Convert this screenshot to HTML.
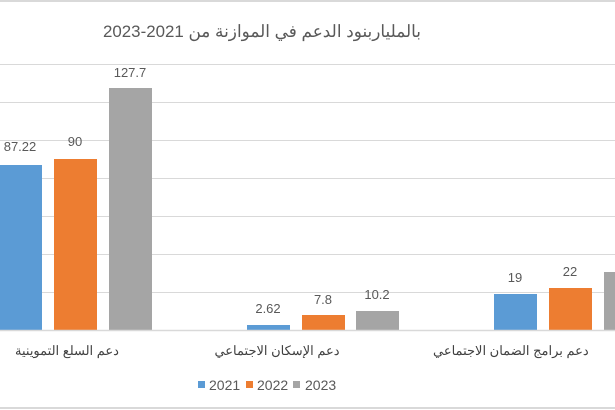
<!DOCTYPE html>
<html><head><meta charset="utf-8"><style>
body{margin:0;background:#fff;}
svg{display:block;font-family:"Liberation Sans","Noto Sans CJK SC",sans-serif;}
</style></head><body>
<svg width="615" height="410" xmlns="http://www.w3.org/2000/svg">
<rect width="615" height="410" fill="#fff"/>
<line x1="0" y1="1" x2="615" y2="1" stroke="#d9d9d9" stroke-width="2"/>
<line x1="0" y1="408" x2="615" y2="408" stroke="#d9d9d9" stroke-width="2"/>
<text x="262" y="37" font-size="17" fill="#595959" text-anchor="middle" textLength="318" lengthAdjust="spacingAndGlyphs" direction="rtl">بالمليار‌بنود الدعم في الموازنة من 2021-2023</text>
<g stroke="#d9d9d9" stroke-width="1">
<line x1="0" y1="64.5" x2="615" y2="64.5"/><line x1="0" y1="102.5" x2="615" y2="102.5"/>
<line x1="0" y1="140.5" x2="615" y2="140.5"/><line x1="0" y1="178.5" x2="615" y2="178.5"/>
<line x1="0" y1="216.5" x2="615" y2="216.5"/><line x1="0" y1="254.5" x2="615" y2="254.5"/>
<line x1="0" y1="292.5" x2="615" y2="292.5"/>
</g>
<g>
<rect x="-1" y="165" width="43" height="165" fill="#5b9bd5"/>
<rect x="54" y="159" width="43" height="171" fill="#ed7d31"/>
<rect x="109" y="88" width="43" height="242" fill="#a5a5a5"/>
<rect x="247" y="325" width="43" height="5" fill="#5b9bd5"/>
<rect x="302" y="315" width="43" height="15" fill="#ed7d31"/>
<rect x="356" y="311" width="43" height="19" fill="#a5a5a5"/>
<rect x="494" y="294" width="43" height="36" fill="#5b9bd5"/>
<rect x="549" y="288" width="43" height="42" fill="#ed7d31"/>
<rect x="604" y="272" width="43" height="58" fill="#a5a5a5"/>
</g>
<line x1="0" y1="330.5" x2="615" y2="330.5" stroke="#d9d9d9" stroke-width="1.5"/>
<g font-size="13" fill="#595959" text-anchor="middle">
<text x="20" y="151">87.22</text><text x="75" y="146">90</text><text x="130" y="77">127.7</text>
<text x="268" y="313">2.62</text><text x="323" y="304">7.8</text><text x="377" y="299">10.2</text>
<text x="515" y="282">19</text><text x="570" y="276">22</text>
</g>
<g font-size="13" fill="#404040">
<text x="67" y="355" text-anchor="middle">دعم السلع التموينية</text>
<text x="277" y="355" text-anchor="middle">دعم الإسكان الاجتماعي</text>
<text x="433" y="355" text-anchor="start">دعم برامج الضمان الاجتماعي</text>
</g>
<g font-size="14" fill="#595959">
<rect x="198" y="381" width="7" height="7" fill="#5b9bd5"/><text x="209" y="390">2021</text>
<rect x="246" y="381" width="7" height="7" fill="#ed7d31"/><text x="257" y="390">2022</text>
<rect x="293" y="381" width="7" height="7" fill="#a5a5a5"/><text x="305" y="390">2023</text>
</g>
</svg>
</body></html>
